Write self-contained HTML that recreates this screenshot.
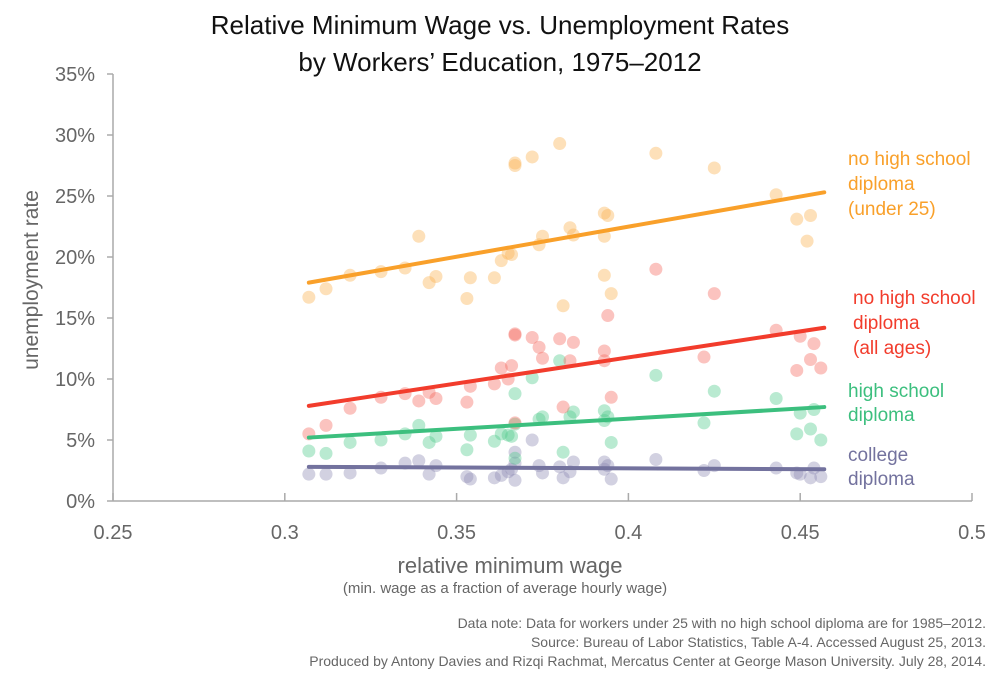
<!DOCTYPE html>
<html><head><meta charset="utf-8"><style>
body{margin:0;background:#fff;}
svg{display:block;font-family:"Liberation Sans",Arial,sans-serif;}
</style></head><body>
<svg id="chart" width="1000" height="679" viewBox="0 0 1000 679">
<text x="500" y="34" text-anchor="middle" font-size="26" fill="#111">Relative Minimum Wage vs. Unemployment Rates</text>
<text x="500" y="71" text-anchor="middle" font-size="26" fill="#111">by Workers’ Education, 1975–2012</text>
<g id="axes"></g>
<g id="marks"></g>
<text transform="translate(38,280) rotate(-90)" text-anchor="middle" font-size="21" fill="#666">unemployment rate</text>
<text x="510" y="573" text-anchor="middle" font-size="22" fill="#666">relative minimum wage</text>
<text x="505" y="593" text-anchor="middle" font-size="15" fill="#666">(min. wage as a fraction of average hourly wage)</text>
<g font-size="14" fill="#666" text-anchor="end">
<text x="986" y="628">Data note: Data for workers under 25 with no high school diploma are for 1985–2012.</text>
<text x="986" y="647">Source: Bureau of Labor Statistics, Table A-4. Accessed August 25, 2013.</text>
<text x="986" y="666">Produced by Antony Davies and Rizqi Rachmat, Mercatus Center at George Mason University. July 28, 2014.</text>
</g>
<g font-size="19">
<text x="848" y="165" fill="#f9a02a"><tspan x="848">no high school</tspan><tspan x="848" dy="25">diploma</tspan><tspan x="848" dy="25">(under 25)</tspan></text>
<text x="853" y="304" fill="#f23c2c"><tspan x="853">no high school</tspan><tspan x="853" dy="25">diploma</tspan><tspan x="853" dy="25">(all ages)</tspan></text>
<text x="848" y="397" fill="#3cbf7e"><tspan x="848">high school</tspan><tspan x="848" dy="24">diploma</tspan></text>
<text x="848" y="461" fill="#73729e"><tspan x="848">college</tspan><tspan x="848" dy="24">diploma</tspan></text>
</g>
</svg>
<script>
const xTicks=[0.25,0.3,0.35,0.4,0.45,0.5];
const xTickLabels=["0.25","0.3","0.35","0.4","0.45","0.5"];
const yTicks=[0,5,10,15,20,25,30,35];
const yTickLabels=["0%","5%","10%","15%","20%","25%","30%","35%"];
const under25X=[0.307,0.312,0.319,0.328,0.335,0.339,0.342,0.344,0.353,0.354,0.361,0.363,0.365,0.366,0.367,0.367,0.372,0.374,0.375,0.380,0.381,0.383,0.384,0.393,0.393,0.394,0.393,0.395,0.408,0.425,0.443,0.449,0.453,0.452];
const under25Y=[16.7,17.4,18.5,18.8,19.1,21.7,17.9,18.4,16.6,18.3,18.3,19.7,20.3,20.2,27.7,27.5,28.2,21.0,21.7,29.3,16.0,22.4,21.8,21.7,23.6,23.4,18.5,17.0,28.5,27.3,25.1,23.1,23.4,21.3];
const eduX=[0.307,0.312,0.319,0.328,0.335,0.339,0.342,0.344,0.353,0.354,0.361,0.363,0.365,0.366,0.367,0.367,0.367,0.372,0.374,0.375,0.380,0.381,0.383,0.384,0.393,0.393,0.394,0.395,0.408,0.422,0.425,0.443,0.449,0.450,0.453,0.454,0.456];
const noHsY=[5.5,6.2,7.6,8.5,8.8,8.2,8.9,8.4,8.1,9.4,9.6,10.9,10.0,11.1,13.7,13.6,6.4,13.4,12.6,11.7,13.3,7.7,11.5,13.0,12.3,11.5,15.2,8.5,19.0,11.8,17.0,14.0,10.7,13.5,11.6,12.9,10.9];
const hsY=[4.1,3.9,4.8,5.0,5.5,6.2,4.8,5.3,4.2,5.4,4.9,5.5,5.4,5.3,6.3,8.8,3.5,10.1,6.7,6.9,11.5,4.0,6.9,7.3,6.6,7.4,6.9,4.8,10.3,6.4,9.0,8.4,5.5,7.2,5.9,7.5,5.0];
const collegeY=[2.2,2.2,2.3,2.7,3.1,3.3,2.2,2.9,2.0,1.8,1.9,2.1,2.4,2.6,4.0,3.1,1.7,5.0,2.9,2.3,2.8,1.9,2.4,3.2,3.2,2.6,2.9,1.8,3.4,2.5,2.9,2.7,2.3,2.2,1.9,2.7,2.0];
const fitX=[0.307,0.457];
const under25Fit=[17.9,25.3];
const noHsFit=[7.8,14.2];
const hsFit=[5.2,7.7];
const collegeFit=[2.8,2.6];

const NS="http://www.w3.org/2000/svg";
const xS=v=>113+(v-0.25)/0.25*859;
const yS=p=>501-p/35*427;
function mk(tag,attrs,parent){const e=document.createElementNS(NS,tag);for(const k in attrs)e.setAttribute(k,attrs[k]);parent.appendChild(e);return e;}
const axes=document.getElementById('axes'),marks=document.getElementById('marks');
let l=mk('line',{x1:113,y1:yS(35),x2:113,y2:501,stroke:'#aaa','stroke-width':1.5},axes);


l=mk('line',{x1:113,y1:501,x2:972,y2:501,stroke:'#aaa','stroke-width':1.5},axes);


yTicks.forEach((t,i)=>{
 const tk=mk('line',{x1:107,y1:yS(t),x2:113,y2:yS(t),stroke:'#aaa','stroke-width':1.5},axes);
 
 
 const tx=mk('text',{x:95,y:yS(t)+7,'text-anchor':'end','font-size':20,fill:'#666'},axes);
 tx.textContent=yTickLabels[i];
 
 
});
xTicks.forEach((t,i)=>{
 const tk=mk('line',{x1:xS(t),y1:501,x2:xS(t),y2:493,stroke:'#aaa','stroke-width':1.5},axes);
 
 
 const tx=mk('text',{x:xS(t),y:539,'text-anchor':'middle','font-size':20,fill:'#666'},axes);
 tx.textContent=xTickLabels[i];
 
 
});
function dots(xs,ys,color,name){
 const g=mk('g',{},marks);
 
 
 ys.forEach((y,i)=>{
  const c=mk('circle',{cx:xS(xs[i]),cy:yS(y),r:6.5,fill:color,'fill-opacity':0.4},g);
  
  
 });
}
function fit(ys,color,name){
 const ln=mk('line',{x1:xS(fitX[0]),y1:yS(ys[0]),x2:xS(fitX[1]),y2:yS(ys[1]),stroke:color,'stroke-width':4,'stroke-linecap':'round'},marks);
 
 
}
dots(eduX,collegeY,'#8e8db3','college');
dots(eduX,hsY,'#4fcb8c','high-school');
dots(eduX,noHsY,'#f66a60','no-hs-all-ages');
dots(under25X,under25Y,'#fbb250','no-hs-under-25');
fit(collegeFit,'#73729e','college');
fit(hsFit,'#3cbf7e','high-school');
fit(noHsFit,'#f23c2c','no-hs-all-ages');
fit(under25Fit,'#f9a02a','no-hs-under-25');
</script>
</body></html>
